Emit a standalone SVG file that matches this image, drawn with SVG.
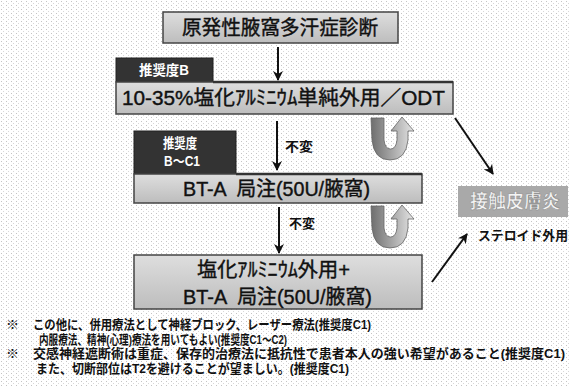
<svg xmlns="http://www.w3.org/2000/svg" width="570" height="386" viewBox="0 0 570 386">
<defs>
<pattern id="dots" width="5" height="4" patternUnits="userSpaceOnUse">
<rect x="1" y="1" width="1" height="1" fill="#c4c4c4"/>
<rect x="3" y="3" width="1" height="1" fill="#d8d8d8"/>
</pattern>
<linearGradient id="boxg" x1="0" y1="0" x2="0" y2="1">
<stop offset="0" stop-color="#dedede"/>
<stop offset="1" stop-color="#bdbdbd"/>
</linearGradient>
<linearGradient id="ug" x1="0" y1="0" x2="1" y2="0">
<stop offset="0" stop-color="#6e6e6e"/>
<stop offset="0.5" stop-color="#a8a8a8"/>
<stop offset="1" stop-color="#e6e6e6"/>
</linearGradient>
<marker id="ah" viewBox="0 0 10 10" refX="9" refY="5" markerWidth="5" markerHeight="5" orient="auto" markerUnits="strokeWidth">
<path d="M0,0 L10,5 L0,10 L3,5 z" fill="#111"/>
</marker>
<path id="uturn" d="M371,118 L372,140 Q374,160 390,160 Q406,160 408,140 L408,131 L414,131 L402,117 L391,131 L397,131 L397,140 Q396,149 390.5,149 Q385,149 384,140 L384,118 Z"/>
</defs>
<style>
text{font-family:"Liberation Sans","Noto Sans CJK JP",sans-serif;}
.box{fill:url(#boxg);stroke:#444;stroke-width:1.5;}
.lab{fill:#333;stroke:#222;stroke-width:1;}
.bt{font-size:20px;fill:#111;stroke:#111;stroke-width:0.4;text-anchor:middle;white-space:pre;}
.lt{font-size:14px;font-weight:bold;fill:#fff;text-anchor:middle;}
.nt{font-size:13px;font-weight:bold;fill:#111;}
.fn{font-size:13px;font-weight:bold;fill:#111;}
.conn{stroke:#111;stroke-width:2;fill:none;marker-end:url(#ah);}
.u{fill:url(#ug);stroke:#666;stroke-width:0.8;}
</style>
<rect width="570" height="386" fill="#fff"/>
<rect width="570" height="386" fill="url(#dots)"/>

<g id="connectors">
<line class="conn" x1="278" y1="47" x2="278" y2="80"/>
<line class="conn" x1="277" y1="121" x2="277" y2="170"/>
<line class="conn" x1="279" y1="207" x2="279" y2="253"/>
<line class="conn" x1="455" y1="118" x2="493" y2="174"/>
<line class="conn" x1="432" y1="282" x2="467" y2="234"/>
<text class="nt" x="285" y="151" textLength="28" lengthAdjust="spacingAndGlyphs">不変</text>
<text class="nt" x="289" y="228" textLength="26" lengthAdjust="spacingAndGlyphs">不変</text>
</g>

<g id="uturn1"><use href="#uturn" class="u"/></g>
<g id="uturn2"><use href="#uturn" class="u" transform="translate(0,88)"/></g>

<g id="diagnosis">
<rect class="box" x="163" y="12" width="235" height="31"/>
<text class="bt" x="280" y="35" textLength="196" lengthAdjust="spacingAndGlyphs">原発性腋窩多汗症診断</text>
</g>

<g id="gradeB">
<rect class="lab" x="116" y="58" width="97" height="24"/>
<text class="lt" x="164" y="75" textLength="50" lengthAdjust="spacingAndGlyphs">推奨度B</text>
</g>

<g id="alcl">
<rect class="box" x="116" y="82" width="337" height="32"/>
<line x1="213" y1="82" x2="453" y2="82" stroke="#333" stroke-width="2.5"/>
<text class="bt" x="283.5" y="105" textLength="323" lengthAdjust="spacingAndGlyphs">10-35%塩化ｱﾙﾐﾆｳﾑ単純外用／ODT</text>
</g>

<g id="gradeBC1">
<rect class="lab" x="134" y="131" width="102" height="43"/>
<text class="lt" x="180" y="148" textLength="34" lengthAdjust="spacingAndGlyphs">推奨度</text>
<text class="lt" x="182" y="166" textLength="36" lengthAdjust="spacingAndGlyphs">B～C1</text>
</g>

<g id="bta">
<rect class="box" x="134" y="174" width="288" height="29"/>
<line x1="236" y1="174" x2="422" y2="174" stroke="#333" stroke-width="2.5"/>
<text class="bt" x="276.5" y="196" textLength="187" lengthAdjust="spacingAndGlyphs">BT-A  局注(50U/腋窩)</text>
</g>

<g id="combo">
<rect class="box" x="134" y="255" width="288" height="54"/>
<text class="bt" x="273.5" y="277" textLength="153" lengthAdjust="spacingAndGlyphs">塩化ｱﾙﾐﾆｳﾑ外用+</text>
<text class="bt" x="277.5" y="304" textLength="189" lengthAdjust="spacingAndGlyphs">BT-A  局注(50U/腋窩)</text>
</g>

<g id="dermatitis">
<rect x="458" y="186" width="110" height="31" fill="#a9a9a9"/>
<text x="515" y="208" font-size="19" font-weight="bold" fill="#f4f4f4" stroke="#888" stroke-width="0.5" text-anchor="middle" textLength="90" lengthAdjust="spacingAndGlyphs">接触皮膚炎</text>
</g>

<g id="steroid">
<text class="nt" x="478" y="240" textLength="90" lengthAdjust="spacingAndGlyphs">ステロイド外用</text>
</g>

<g id="notes">
<text class="fn" x="6" y="329">※</text>
<text class="fn" x="33" y="329" textLength="338" lengthAdjust="spacingAndGlyphs">この他に、併用療法として神経ブロック、レーザー療法(推奨度C1)</text>
<text class="fn" x="39" y="344" textLength="248" lengthAdjust="spacingAndGlyphs">内服療法、精神(心理)療法を用いてもよい(推奨度C1～C2)</text>
<text class="fn" x="6" y="358">※</text>
<text class="fn" x="33" y="358" textLength="532" lengthAdjust="spacingAndGlyphs">交感神経遮断術は重症、保存的治療法に抵抗性で患者本人の強い希望があること(推奨度C1)</text>
<text class="fn" x="36" y="373" textLength="313" lengthAdjust="spacingAndGlyphs">また、切断部位はT2を避けることが望ましい。(推奨度C1)</text>
</g>
</svg>
